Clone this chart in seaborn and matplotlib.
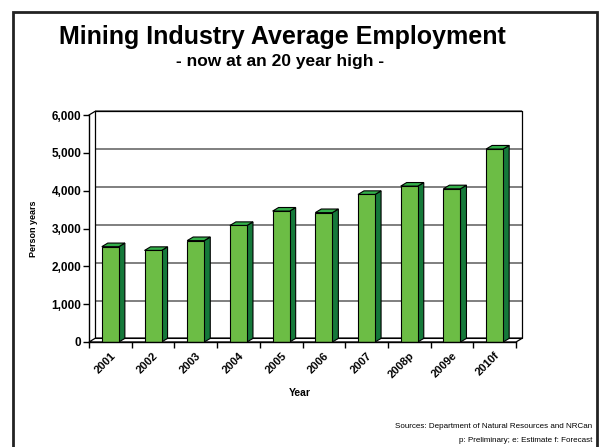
import matplotlib
matplotlib.use('Agg')
import matplotlib.pyplot as plt
import matplotlib.transforms as mtransforms
import seaborn as sns
import pandas as pd
from matplotlib.patches import Polygon, Rectangle
from matplotlib.ticker import FuncFormatter, FixedLocator

# ---- data ----
years = ['2001', '2002', '2003', '2004', '2005', '2006', '2007', '2008p', '2009e', '2010f']
employment = [2520, 2420, 2680, 3080, 3460, 3420, 3900, 4120, 4050, 5100]
y_ticks = [0, 1000, 2000, 3000, 4000, 5000, 6000]

title = 'Mining Industry Average Employment'
subtitle = '- now at an 20 year high -'
source_1 = 'Sources: Department of Natural Resources and NRCan'
source_2 = 'p: Preliminary; e: Estimate f: Forecast'

# ---- style ----
sns.set_theme(style='white')
plt.rcParams['font.family'] = ['Liberation Sans', 'DejaVu Sans']
plt.rcParams['text.color'] = 'black'
plt.rcParams['axes.labelcolor'] = 'black'
plt.rcParams['xtick.color'] = 'black'
plt.rcParams['ytick.color'] = 'black'

FRONT = '#6cbd45'
SIDE = '#15793a'
TOP = '#33b04a'
DX, DY = 0.14, 95  # pseudo-3D depth in data units

fig = plt.figure(figsize=(6, 4.47), dpi=100)
W, H = 600, 447
ax = fig.add_axes([89 / W, 1 - 342 / H, 427 / W, 227 / H])
ax.set_facecolor('none')

df = pd.DataFrame({'Year': years, 'Employment': employment})
sns.barplot(data=df, x='Year', y='Employment', color=FRONT, width=0.4,
            edgecolor='black', linewidth=0.8, saturation=1, ax=ax, zorder=3)

ax.set_xlim(-0.5, len(years) - 0.5)
ax.set_ylim(0, 6000)
x0, x1 = ax.get_xlim()

# back wall gridlines
for v in y_ticks:
    ax.plot([x0 + DX, x1 + DX], [v + DY, v + DY], color='#6a6a6a', lw=1.2,
            clip_on=False, zorder=0.5, solid_capstyle='butt')
# back wall edges
ax.plot([x1 + DX, x1 + DX], [DY, 6000 + DY], color='black', lw=0.9, clip_on=False, zorder=0.6)
ax.plot([x0 + DX, x0 + DX], [DY, 6000 + DY], color='black', lw=0.9, clip_on=False, zorder=0.6)
ax.plot([x0 + DX, x1 + DX], [6000 + DY, 6000 + DY], color='black', lw=0.9, clip_on=False, zorder=0.6)
# left wall top and floor
ax.plot([x0, x0 + DX], [6000, 6000 + DY], color='black', lw=0.9, clip_on=False, zorder=0.6)
floor = Polygon([(x0, 0), (x1, 0), (x1 + DX, DY), (x0 + DX, DY)], closed=True,
                facecolor='white', edgecolor='black', lw=0.9, clip_on=False, zorder=1)
ax.add_patch(floor)

# side and top faces of bars
for p in list(ax.patches):
    if not isinstance(p, Rectangle):
        continue
    bx, bw, bh = p.get_x(), p.get_width(), p.get_height()
    if bh <= 0:
        continue
    side = Polygon([(bx + bw, 0), (bx + bw + DX, DY), (bx + bw + DX, bh + DY), (bx + bw, bh)],
                   closed=True, facecolor=SIDE, edgecolor='black', lw=0.8, zorder=2.9, clip_on=False)
    top = Polygon([(bx, bh), (bx + DX, bh + DY), (bx + bw + DX, bh + DY), (bx + bw, bh)],
                  closed=True, facecolor=TOP, edgecolor='black', lw=0.8, zorder=2.9, clip_on=False)
    ax.add_patch(side)
    ax.add_patch(top)

# axes, ticks
for s in ['top', 'right']:
    ax.spines[s].set_visible(False)
for s in ['left', 'bottom']:
    ax.spines[s].set_color('black')
    ax.spines[s].set_linewidth(1.0)
    ax.spines[s].set_zorder(4)

ax.yaxis.set_major_locator(FixedLocator(y_ticks))
ax.yaxis.set_major_formatter(FuncFormatter(lambda v, pos: f'{int(v):,}'))
ax.tick_params(axis='y', which='major', direction='out', length=4, width=1, color='black',
               pad=1.5, labelsize=8.5, left=True)
for t in ax.get_yticklabels():
    t.set_fontweight('bold')

ax.set_xticks(range(len(years)))
ax.set_xticklabels(years, rotation=45, ha='right', rotation_mode='anchor',
                   fontsize=8, fontweight='bold')
shift = mtransforms.ScaledTranslation(-5 / 100, -2 / 100, fig.dpi_scale_trans)
for t in ax.get_xticklabels():
    t.set_transform(t.get_transform() + shift)
ax.set_xticks([i - 0.5 for i in range(len(years) + 1)], minor=True)
ax.tick_params(axis='x', which='major', length=0, pad=6)
ax.tick_params(axis='x', which='minor', direction='out', length=4, width=1, color='black', bottom=True)

ax.set_xlabel('Year', fontsize=7.5, fontweight='bold')
ax.xaxis.set_label_coords((300 - 89) / 427, (342 - 388) / 227)
ax.set_ylabel('Person years', fontsize=6.5, fontweight='bold')
ax.yaxis.set_label_coords((38 - 89) / 427, 0.5)
ax.grid(False)

# titles and notes
fig.text(282 / W, 1 - 44 / H, title, ha='center', va='baseline', fontsize=18, fontweight='bold')
fig.text(280 / W, 1 - 66 / H, subtitle, ha='center', va='baseline', fontsize=12.5, fontweight='bold')
fig.text(592 / W, 1 - 427 / H, source_1, ha='right', va='center', fontsize=5.8)
fig.text(592 / W, 1 - 440 / H, source_2, ha='right', va='center', fontsize=5.8)

# outer frame
frame = Rectangle((13 / W, -0.05), (597 - 13) / W, (1 - 12 / H) + 0.05, transform=fig.transFigure,
                  fill=False, edgecolor='#222222', lw=2, clip_on=False)
fig.patches.append(frame)

fig.savefig('out.png', dpi=100, facecolor='white')
